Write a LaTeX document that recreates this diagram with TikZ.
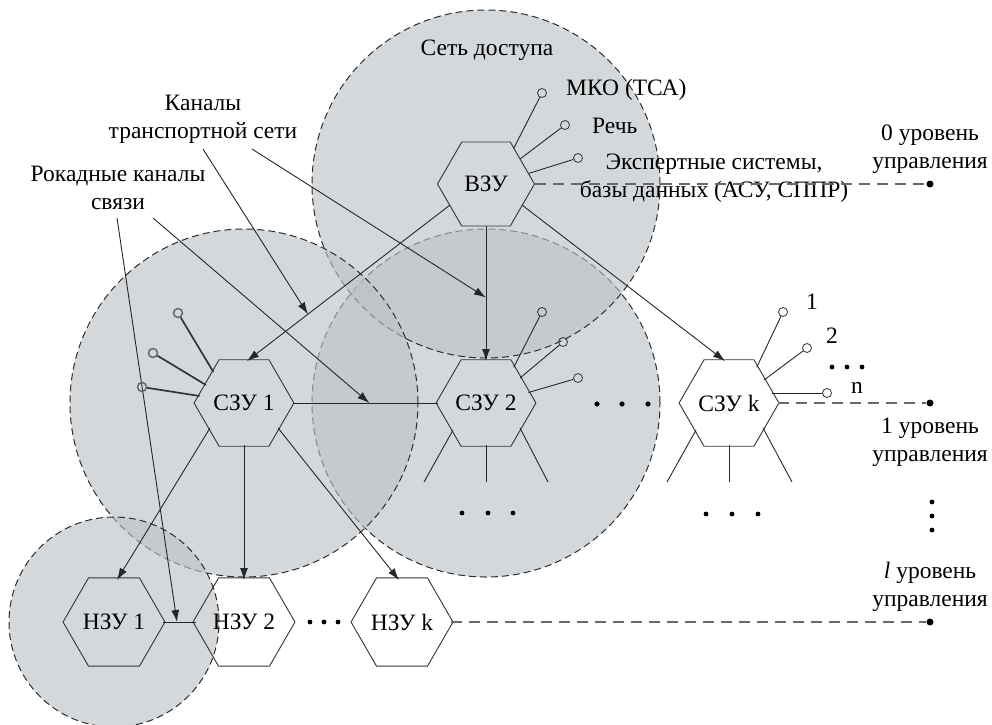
\documentclass[tikz,border=0pt]{standalone}
\usepackage{fontspec}
\setmainfont{Liberation Serif}
\usetikzlibrary{shapes.geometric,arrows.meta,calc}
\definecolor{zonefill}{RGB}{188,192,197}
\definecolor{zoneline}{RGB}{45,45,45}
\definecolor{levelline}{RGB}{105,105,105}
\tikzset{
  zone/.style={fill=zonefill, fill opacity=0.62, draw=zoneline, line width=1pt, dash pattern=on 7pt off 4pt},
  hexnode/.style={regular polygon, regular polygon sides=6,
    minimum size=97pt, inner sep=0pt, draw=black!80, line width=0.9pt,
    font=\fontsize{23.5}{28}\selectfont},
  port/.style={circle, draw=black!80, line width=0.8pt, minimum size=9pt, inner sep=0pt},
  portdark/.style={circle, draw=black!60, line width=1.5pt, minimum size=9pt, inner sep=0pt},
  stub/.style={line width=0.9pt, draw=black!85},
  stubdark/.style={line width=1.7pt, draw=black!80},
  conn/.style={line width=0.9pt, draw=black!85, -{Latex[length=12pt,width=8pt]}},
  level/.style={dash pattern=on 11pt off 7pt, line width=1.3pt, draw=levelline},
  leveldot/.style={circle, fill=black, minimum size=7pt, inner sep=0pt},
  lbl/.style={font=\fontsize{23.5}{28}\selectfont, align=center, inner sep=0pt},
}
\begin{document}
\begin{tikzpicture}[x=1pt,y=-1pt]
\useasboundingbox (0,0) rectangle (992,724);
\clip (0,0) rectangle (992,724);

% coverage zones
\draw[zone] (486,403) circle (174pt);
\draw[zone] (486,184) circle (174pt);
\draw[zone] (244,403) circle (174pt);
\draw[zone] (114,622) circle (105pt);

% switching nodes
\node[hexnode] (vzu)  at (486,184) {ВЗУ};
\node[hexnode] (szu1) at (244,403) {СЗУ 1};
\node[hexnode] (szu2) at (486,403) {СЗУ 2};
\node[hexnode] (szuk) at (729,403) {СЗУ k};
\node[hexnode] (nzu1) at (114,622) {НЗУ 1};
\node[hexnode] (nzu2) at (244,622) {НЗУ 2};
\node[hexnode] (nzuk) at (402,622) {НЗУ k};

% transport channels
\draw[conn] ($(vzu)+(-36,21)$) -- coordinate[pos=0.7] (tA) ($(szu1)+(3,-42)$);
\draw[conn] ($(vzu)+(0,42)$) -- coordinate[pos=0.53] (tB) ($(szu2)+(0,-42)$);
\draw[conn] ($(vzu)+(36,21)$) -- ($(szuk)+(-4,-42)$);
\draw[conn] ($(szu1)+(-34,25)$) -- ($(nzu1)+(3,-42)$);
\draw[conn] ($(szu1)+(0,42)$) -- ($(nzu2)+(0,-42)$);
\draw[conn] ($(szu1)+(34,25)$) -- ($(nzuk)+(-3,-42)$);

% lateral channels
\draw[stub] ($(szu1)+(48.5,0)$) -- coordinate[pos=0.53] (tC) ($(szu2)+(-48.5,0)$);
\draw[stub] ($(nzu1)+(48.5,0)$) -- coordinate[pos=0.44] (tD) ($(nzu2)+(-48.5,0)$);

% captions with pointers
\node[lbl] (lt) at (203,119) {Каналы\\транспортной сети};
\node[lbl] (lr) at (118,188) {Рокадные каналы\\связи};
\draw[conn] ($(lt)+(0,30)$) -- (tA);
\draw[conn] ($(lt)+(49,30)$) -- (tB);
\draw[conn] ($(lr)+(-1,30)$) -- (tD);
\draw[conn] ($(lr)+(35,30)$) -- (tC);

\node[lbl] (net) at (487,50) {Сеть доступа};

% access points of the upper node
\node[port] (v1) at ($(vzu)+(56,-91)$) {};
\node[port] (v2) at ($(vzu)+(79,-59)$) {};
\node[port] (v3) at ($(vzu)+(92,-26)$) {};
\draw[stub] ($(vzu)+(27.7,-35.7)$) -- (v1);
\draw[stub] ($(vzu)+(34,-25)$) -- (v2);
\draw[stub] ($(vzu)+(42.4,-10.5)$) -- (v3);
\node[lbl,anchor=west] (mko) at (566,90) {МКО (ТСА)};
\node[lbl,anchor=west] (speech) at (592,126) {Речь};
\node[lbl] (exp) at (714,178) {Экспертные системы,\\базы данных (АСУ, СППР)};

% access points of СЗУ 1
\node[portdark] (a1) at ($(szu1)+(-66,-90)$) {};
\node[portdark] (a2) at ($(szu1)+(-91,-50)$) {};
\node[portdark] (a3) at ($(szu1)+(-102,-16)$) {};
\draw[stubdark] ($(szu1)+(-30.6,-31)$) -- (a1);
\draw[stubdark] ($(szu1)+(-38,-18)$) -- (a2);
\draw[stubdark] ($(szu1)+(-44.5,-7)$) -- (a3);

% access points of СЗУ 2
\node[port] (b1) at ($(szu2)+(56,-91)$) {};
\node[port] (b2) at ($(szu2)+(77,-61)$) {};
\node[port] (b3) at ($(szu2)+(92,-25)$) {};
\draw[stub] ($(szu2)+(27.7,-35.7)$) -- (b1);
\draw[stub] ($(szu2)+(34,-25)$) -- (b2);
\draw[stub] ($(szu2)+(42.4,-10.5)$) -- (b3);
\draw[stub] ($(szu2)+(-33,27)$) -- ($(szu2)+(-62,79)$);
\draw[stub] ($(szu2)+(0,42)$) -- ($(szu2)+(0,79)$);
\draw[stub] ($(szu2)+(34,25)$) -- ($(szu2)+(62,79)$);

% access points of СЗУ k
\node[port] (k1) at ($(szuk)+(54,-91)$) {};
\node[port] (k2) at ($(szuk)+(78,-55)$) {};
\node[port] (k3) at ($(szuk)+(98,-10)$) {};
\draw[stub] ($(szuk)+(27.7,-35.7)$) -- (k1);
\draw[stub] ($(szuk)+(35,-23)$) -- (k2);
\draw[stub] ($(szuk)+(42.7,-10)$) -- (k3);
\draw[stub] ($(szuk)+(-33,27)$) -- ($(szuk)+(-62,79)$);
\draw[stub] ($(szuk)+(0,42)$) -- ($(szuk)+(0,79)$);
\draw[stub] ($(szuk)+(34,25)$) -- ($(szuk)+(63,79)$);
\node[lbl] (n1) at (812,302) {1};
\node[lbl] (n2) at (832,336) {2};
\node[lbl] (nn) at (857,388) {n};

% ellipses
\foreach \x in {597,622,648} \fill (\x,404) circle (2.6pt);
\foreach \x in {832,847,862} \fill (\x,367) circle (2.4pt);
\foreach \x in {462,488,513} \fill (\x,513) circle (2.4pt);
\foreach \x in {706,732,758} \fill (\x,514) circle (2.4pt);
\foreach \x in {310,324,338} \fill (\x,622) circle (2.4pt);
\foreach \y in {502,516,530} \fill (932,\y) circle (2.4pt);

% control levels
\node[leveldot] (d0) at (930,184) {};
\node[leveldot] (d1) at (930,403) {};
\node[leveldot] (dl) at (930,622) {};
\draw[level] ($(vzu)+(48.5,0)$) -- (d0);
\draw[level] ($(szuk)+(48.5,0)$) -- (d1);
\draw[level] ($(nzuk)+(48.5,0)$) -- (dl);
\node[lbl] (l0) at (930,149) {0 уровень\\управления};
\node[lbl] (l1) at (930,442) {1 уровень\\управления};
\node[lbl] (ll) at (930,587) {\textit{l} уровень\\управления};
\end{tikzpicture}
\end{document}
